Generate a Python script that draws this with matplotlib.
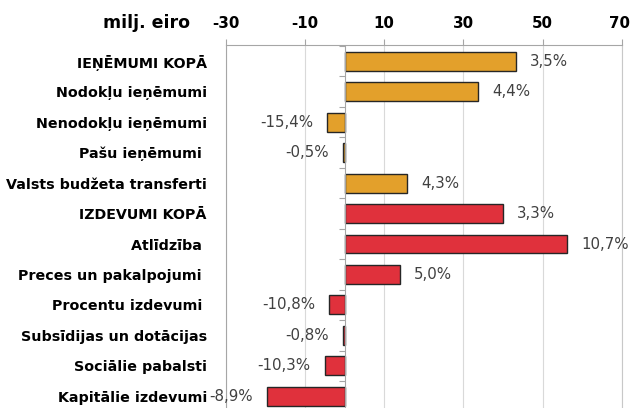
import matplotlib
matplotlib.use("Agg")
import matplotlib.pyplot as plt
import matplotlib.transforms as mtransforms
import numpy as np

categories = [
    "IEŅĒMUMI KOPĀ",
    "Nodokļu ieņēmumi",
    "Nenodokļu ieņēmumi",
    "Pašu ieņēmumi ",
    "Valsts budžeta transferti",
    "IZDEVUMI KOPĀ",
    "Atlīdzība ",
    "Preces un pakalpojumi ",
    "Procentu izdevumi ",
    "Subsīdijas un dotācijas",
    "Sociālie pabalsti",
    "Kapitālie izdevumi",
]
values = [43.4, 33.8, -4.4, -0.4, 15.9, 39.9, 56.3, 13.9, -3.8, -0.5, -5.0, -19.6]
pct_labels = ["3,5%", "4,4%", "-15,4%", "-0,5%", "4,3%", "3,3%", "10,7%",
              "5,0%", "-10,8%", "-0,8%", "-10,3%", "-8,9%"]
groups = ["rev"] * 5 + ["exp"] * 7
xticks = [-30, -10, 10, 30, 50, 70]
unit_label = "milj. eiro"

group_colors = {"rev": "#E3A02B", "exp": "#E0313C"}
bold_font = "DejaVu Sans"

fig = plt.figure(figsize=(6.31, 4.08), dpi=100)
ax = fig.add_axes([225.7 / 631, 0.0, (621.7 - 225.7) / 631, 1 - 44.5 / 408])

y = np.arange(len(categories))
colors = [group_colors[g] for g in groups]
ax.barh(y, values, height=0.62, color=colors, edgecolor="#262626",
        linewidth=1.0, zorder=3)

ax.set_xlim(-30, 70)
ax.set_ylim(11.384, -0.55)
ax.set_xticks(xticks)
ax.set_xticklabels([str(t) for t in xticks], fontsize=10.8, fontweight="bold",
                   family=bold_font)
ax.xaxis.tick_top()
ax.tick_params(axis="x", direction="out", length=4, width=0.8,
               color="#A6A6A6", pad=6)
ax.grid(axis="x", color="#D9D9D9", linewidth=0.8, zorder=0)
# keep the last tick label inside the canvas
last = ax.get_xticklabels()[-1]
last.set_transform(last.get_transform() +
                   mtransforms.ScaledTranslation(-2 / 100, 0, fig.dpi_scale_trans))

ax.set_yticks(y)
ax.set_yticklabels(categories, fontsize=10.3, fontweight="bold",
                   family=bold_font)
ax.tick_params(axis="y", length=0, pad=13.5)

ax.spines["bottom"].set_visible(False)
for s in ["top", "left"]:
    ax.spines[s].set_color("#A6A6A6")
    ax.spines[s].set_linewidth(0.8)
ax.spines["right"].set_color("#C8C8C8")
ax.spines["right"].set_linewidth(0.8)

# zero (category) axis with tick marks at category boundaries
ax.axvline(0, color="#A6A6A6", linewidth=0.8, zorder=4)
bounds = np.arange(len(categories) + 1) - 0.5
ax.hlines(bounds, -1.5, 0, color="#A6A6A6", linewidth=0.8, zorder=4)

for yi, v, lab in zip(y, values, pct_labels):
    if v >= 0:
        ax.annotate(lab, (v, yi), xytext=(10, 0), textcoords="offset points",
                    ha="left", va="center", fontsize=10.8, color="#404040",
                    family="DejaVu Sans", annotation_clip=False, zorder=5)
    else:
        ax.annotate(lab, (v, yi), xytext=(-10, 0), textcoords="offset points",
                    ha="right", va="center", fontsize=10.8, color="#404040",
                    family="DejaVu Sans", annotation_clip=False, zorder=5)

fig.text(190 / 631, 1 - 28 / 408, unit_label, ha="right", va="baseline",
         fontsize=12.5, fontweight="bold", family=bold_font)

fig.savefig("out.png", dpi=100)
